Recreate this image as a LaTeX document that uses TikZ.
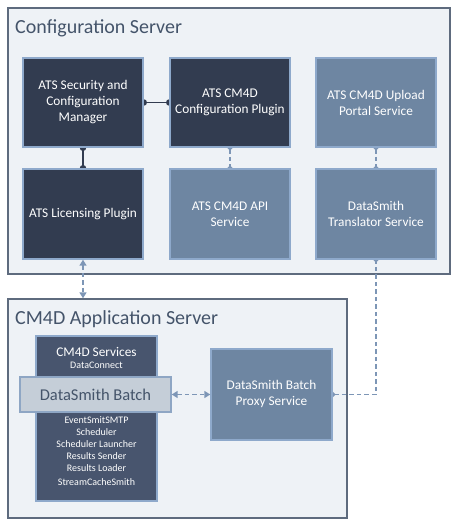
\documentclass[tikz,border=0pt]{standalone}
\usepackage{fontspec}
\setmainfont{Carlito}
\usetikzlibrary{arrows.meta}
\pgfdeclarelayer{back}
\pgfdeclarelayer{mid}
\pgfsetlayers{back,mid,main}
\definecolor{cdark}{HTML}{323C50}
\definecolor{cmed}{HTML}{6E86A2}
\definecolor{csvc}{HTML}{48556E}
\definecolor{cbatch}{HTML}{C5CED8}
\definecolor{cbatchb}{HTML}{8EA6C4}
\definecolor{cboxb}{HTML}{8EA9CB}
\definecolor{ccont}{HTML}{EEF2F6}
\definecolor{ccontb}{HTML}{5E6B7E}
\definecolor{cdash}{HTML}{7D96B6}
\definecolor{ctitle}{HTML}{44546A}
\tikzset{
  x=1pt, y=-1pt,
  container/.style={draw=ccontb, fill=ccont, line width=1.4pt, inner sep=0pt},
  ctitle/.style={anchor=base west, text=ctitle, inner sep=0pt, font=\fontsize{20}{24}\selectfont},
  box/.style={draw=cboxb, line width=1.4pt, inner sep=0pt, minimum width=120pt, text=white,
    align=center, font=\fontsize{13.3}{16}\selectfont},
  darkbox/.style={box, fill=cdark},
  medbox/.style={box, fill=cmed},
  small/.style={text=white, align=center, inner sep=0pt, font=\fontsize{10}{12}\selectfont},
  solidcon/.style={draw=cdark, line width=1.5pt, {Circle[length=6.5pt]}-{Circle[length=6.5pt]},
    shorten <=-3.25pt, shorten >=-3.25pt},
  dotcon/.style={draw=cdash, line width=1.5pt, dash pattern=on 4.5pt off 3pt,
    {Circle[length=5pt]}-{Circle[length=5pt]}, shorten <=-2.5pt, shorten >=-2.5pt},
  arrcon/.style={draw=cdash, line width=1.5pt, dash pattern=on 4.5pt off 3pt,
    {Triangle[length=6pt,width=7pt]}-{Triangle[length=6pt,width=7pt]}}
}
\begin{document}
\begin{tikzpicture}
\useasboundingbox (0,0) rectangle (456,528);
\begin{pgfonlayer}{back}
\node (cs) [container, minimum width=442pt, minimum height=266pt] at (229,141) {};
\node (app) [container, minimum width=339pt, minimum height=219pt] at (177.5,408.5) {};
\end{pgfonlayer}
\node (cst) [ctitle] at (15,33) {Configuration Server};
\node (appt) [ctitle] at (15,324.3) {CM4D Application Server};
% Configuration server boxes
\node (sec) [darkbox, minimum height=89pt] at (83,102.5) {ATS Security and\\Configuration\\Manager};
\node (cfg) [darkbox, minimum height=89pt] at (230,102.5) {ATS CM4D\\Configuration Plugin};
\node (up) [medbox, minimum height=89pt] at (376,102.5) {ATS CM4D Upload\\Portal Service};
\node (lic) [darkbox, minimum height=90pt] at (83,214) {ATS Licensing Plugin};
\node (api) [medbox, minimum height=90pt] at (230,214) {ATS CM4D API\\Service};
\node (tr) [medbox, minimum height=90pt] at (376,214) {DataSmith\\Translator Service};
% Application server boxes
\node (svc) [box, fill=csvc, minimum width=121pt, minimum height=165pt] at (96.5,418.5) {};
\node (svct) [small, anchor=north] at (96.5,347) {{\fontsize{13.3}{16}\selectfont CM4D Services}\\DataConnect};
\node (svcb) [small, anchor=north] at (96.5,416.5) {EventSmitSMTP\\Scheduler\\Scheduler Launcher\\Results Sender\\Results Loader\\[2pt]StreamCacheSmith};
\node (batch) [draw=cbatchb, fill=cbatch, line width=1.4pt, minimum width=151pt, minimum height=35pt,
  text=ctitle, font=\fontsize{16.5}{20}\selectfont] at (95.5,394.5) {DataSmith Batch};
\node (proxy) [medbox, minimum width=121pt, minimum height=91pt] at (271.5,394.5) {};
\node (proxyt) [small, font=\fontsize{13.3}{16}\selectfont, anchor=center] at (271.5,393.5) {DataSmith Batch\\Proxy Service};
% connectors
\begin{pgfonlayer}{mid}
\draw[solidcon] (sec.east) -- (cfg.west);
\draw[solidcon] (sec.south) -- (lic.north);
\draw[dotcon] (cfg.south) -- (api.north);
\draw[dotcon] (up.south) -- (tr.north);
\draw[dotcon] (proxy.east) -| (tr.south);
\end{pgfonlayer}
\draw[arrcon] (lic.south) -- (lic.south |- app.north);
\draw[arrcon] (batch.east) -- (proxy.west);
\end{tikzpicture}
\end{document}
